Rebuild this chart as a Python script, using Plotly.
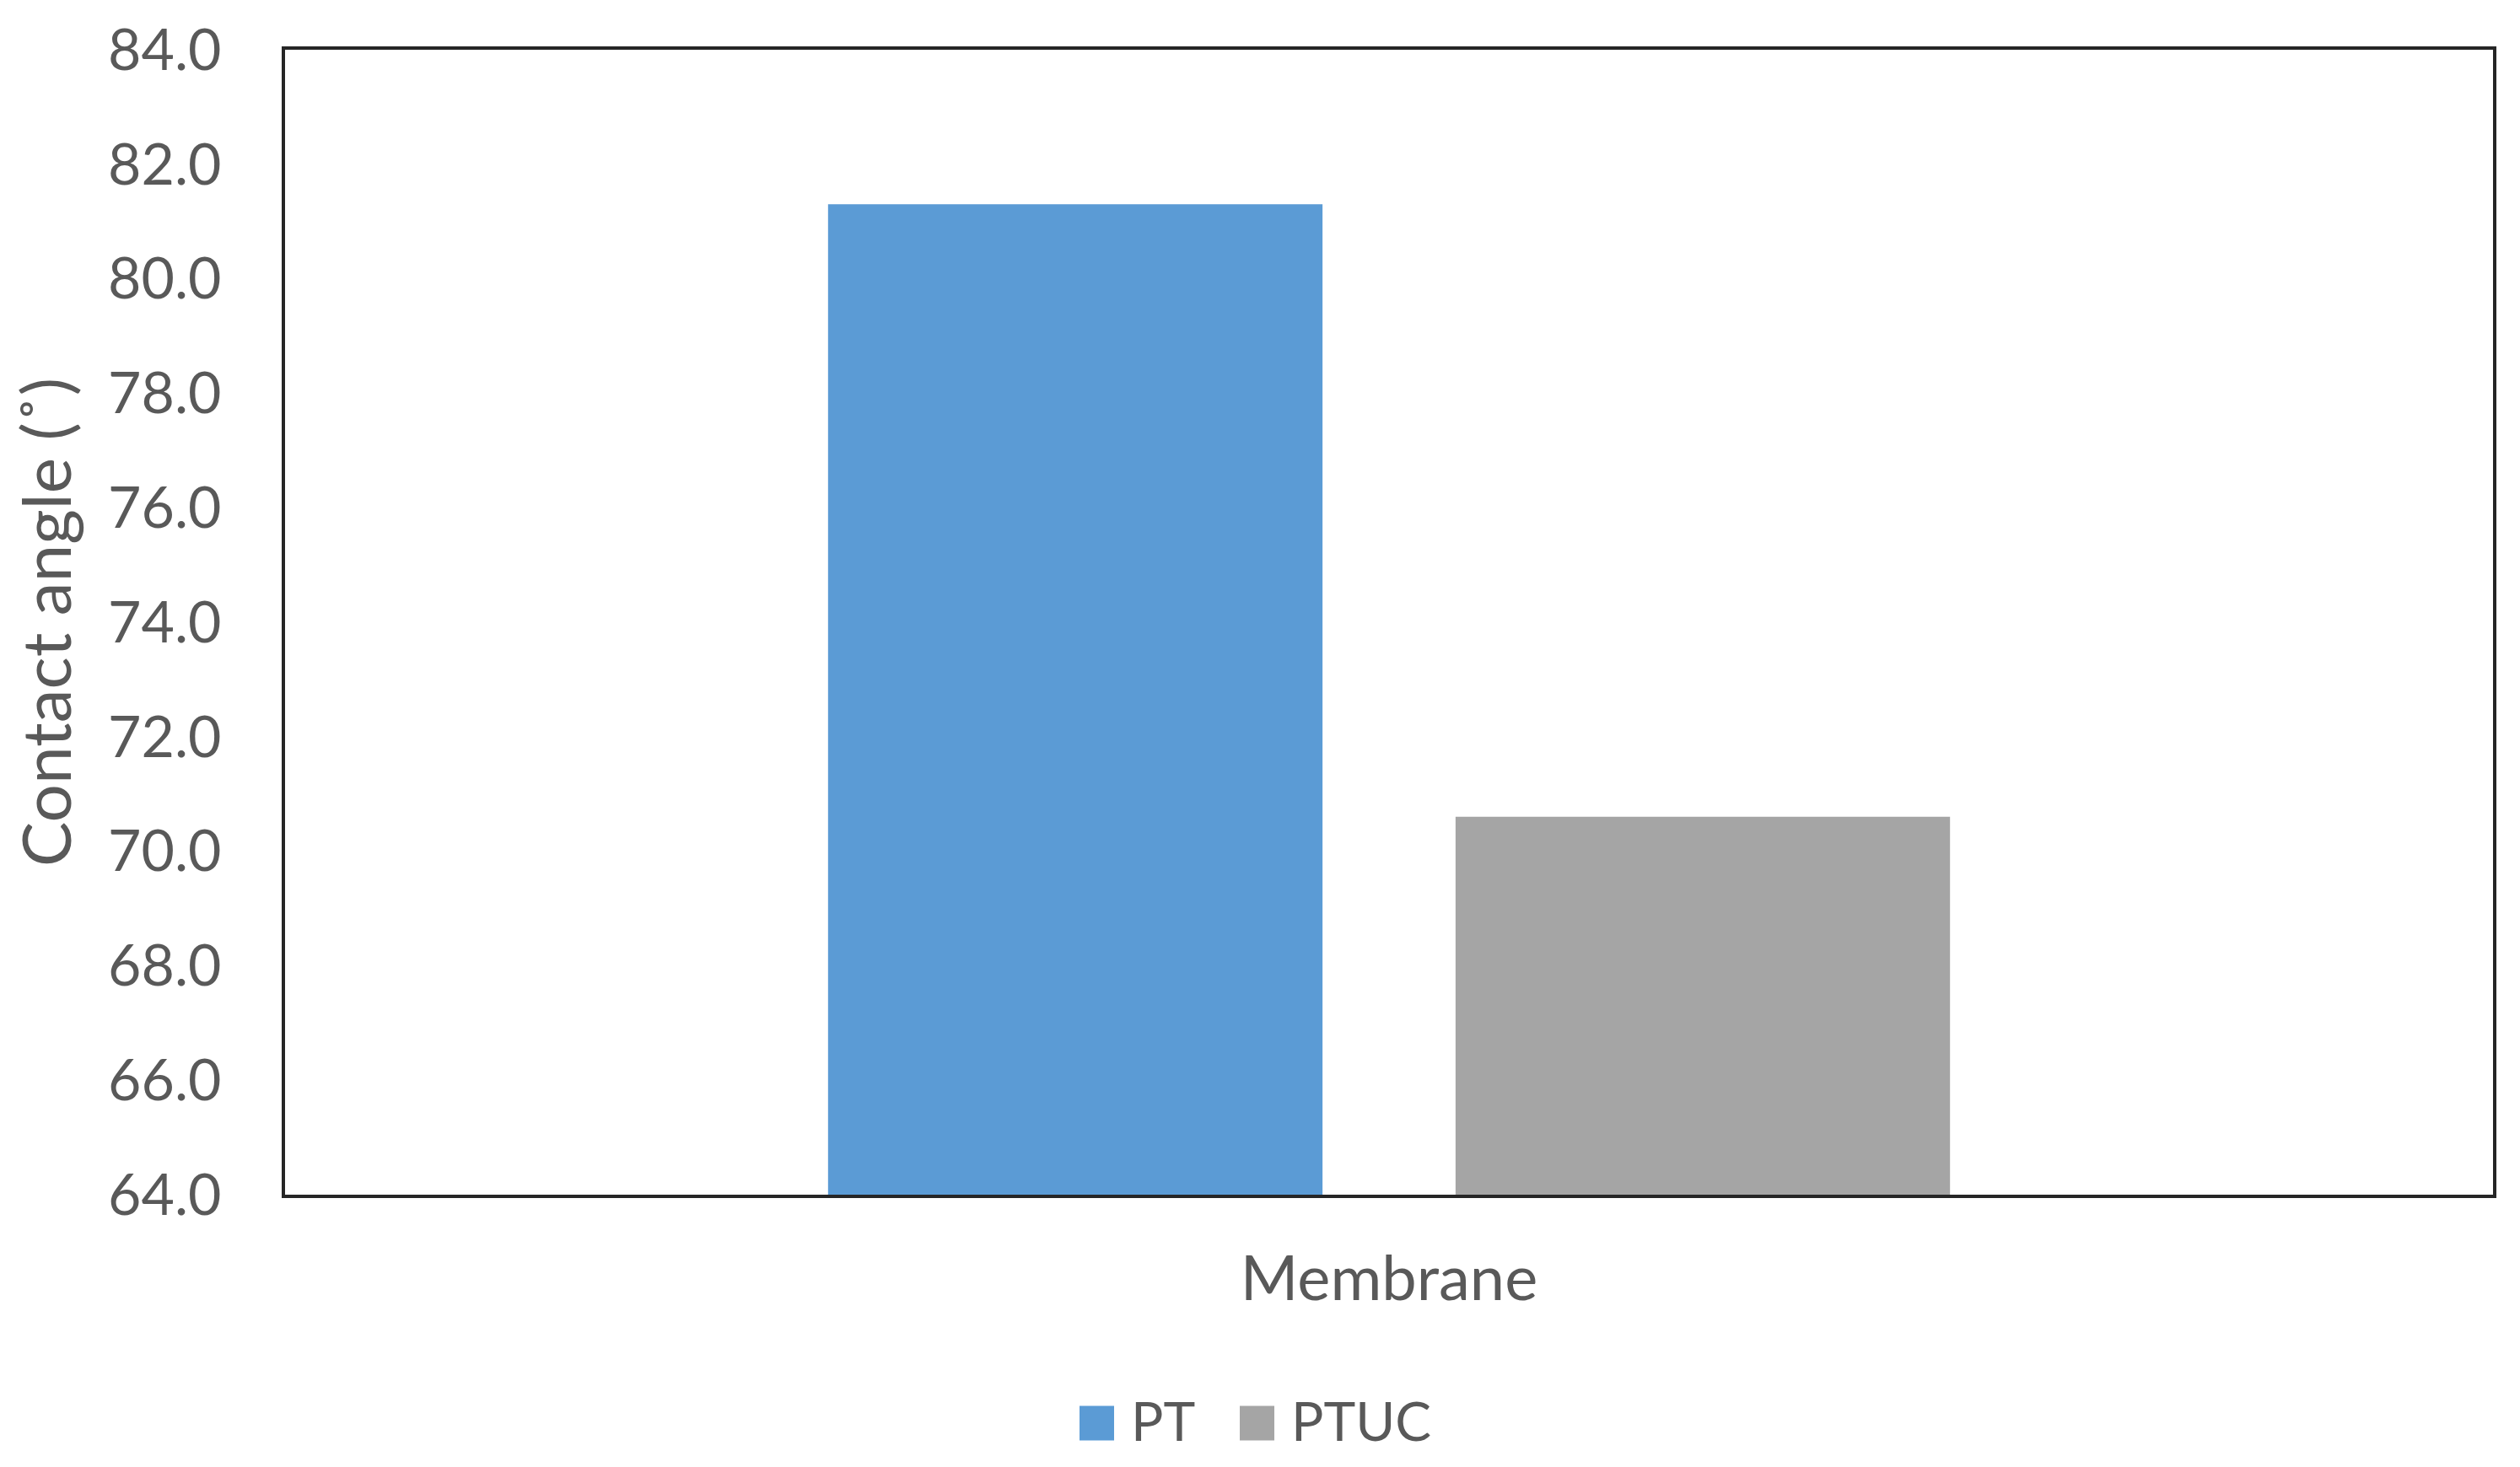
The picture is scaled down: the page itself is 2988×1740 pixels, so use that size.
import plotly.graph_objects as go

# Data
categories = ["Membrane"]
series_names = ["PT", "PTUC"]
series_values = [[81.3], [70.6]]
series_colors = ["#5B9BD5", "#A5A5A5"]
y_ticks = [64, 66, 68, 70, 72, 74, 76, 78, 80, 82, 84]

W, H = 2988, 1740
# plot area in pixels
PL, PR, PT_, PB = 338, 2956, 59, 1417
FONT = "Lato"
TXT = "#595959"

fig = go.Figure()
for name, vals, col in zip(series_names, series_values, series_colors):
    fig.add_trace(go.Bar(x=categories, y=vals, name=name, marker_color=col,
                         marker_line_width=0, showlegend=False))

fig.update_layout(
    width=W, height=H,
    margin=dict(l=PL, r=W - PR, t=PT_, b=H - PB, pad=0),
    barmode="group", bargap=0.4316, bargroupgap=0.212,
    plot_bgcolor="white", paper_bgcolor="white",
    font=dict(family=FONT, color=TXT, size=66),
)
fig.update_yaxes(
    range=[64, 84], tickvals=y_ticks, tickformat=".1f",
    showgrid=False, zeroline=False, showline=True, mirror=True,
    linecolor="#262626", linewidth=4, ticks="",
    ticklabelstandoff=58, tickfont=dict(size=68, color=TXT),
    title=dict(text="Contact angle (˚)", font=dict(size=80, color=TXT), standoff=18),
)
fig.update_xaxes(
    showgrid=False, showline=True, mirror=True,
    linecolor="#262626", linewidth=4, ticks="",
    ticklabelstandoff=32, tickfont=dict(size=74, color=TXT),
)

# manual legend (large swatches)
def px_x(x):
    return (x - PL) / (PR - PL)

def px_y(y):
    return (PB - y) / (PB - PT_)

sw = 41
legend_x = [1280, 1470]
ly = 1688
for name, col, lx in zip(series_names, series_colors, legend_x):
    fig.add_shape(type="rect", xref="paper", yref="paper",
                  x0=px_x(lx), x1=px_x(lx + sw), y0=px_y(ly + sw / 2), y1=px_y(ly - sw / 2),
                  fillcolor=col, line_width=0)
    fig.add_annotation(xref="paper", yref="paper", x=px_x(lx + sw + 18), y=px_y(ly - 4),
                       text=name, showarrow=False, xanchor="left", yanchor="middle",
                       font=dict(size=64, color=TXT, family=FONT))

# remove the default body margin so the figure sits at the page corner
fig.write_html("out.html", config={"displayModeBar": False},
               post_script="document.body.style.margin='0';")
